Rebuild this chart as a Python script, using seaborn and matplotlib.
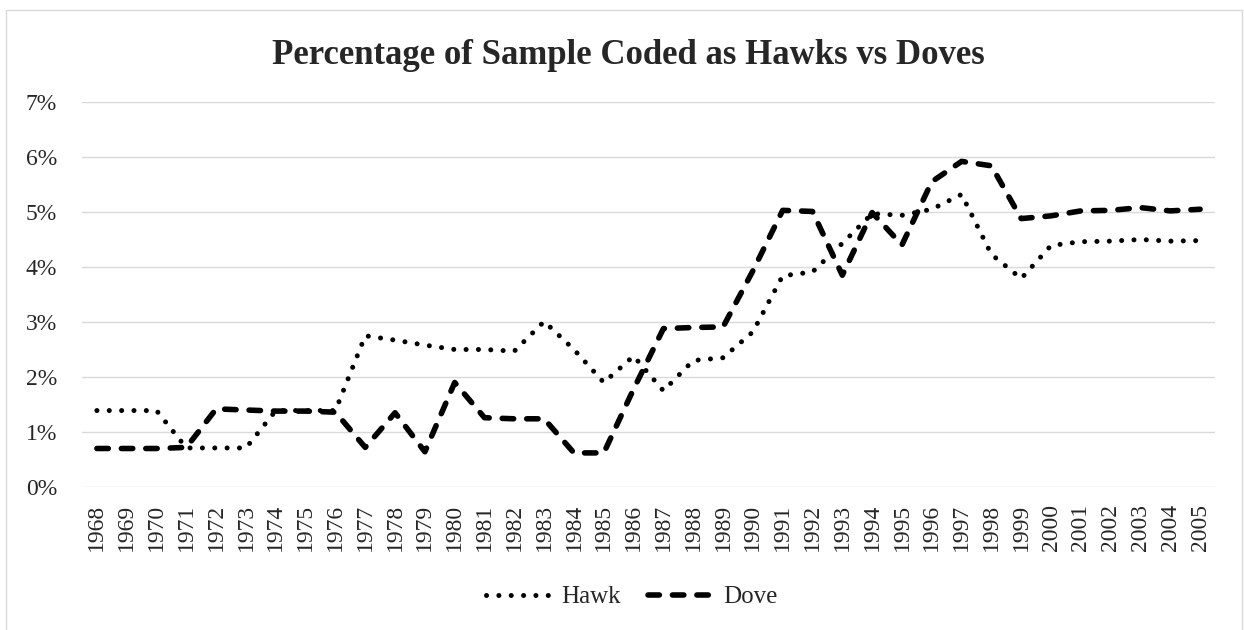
import matplotlib
matplotlib.use("Agg")
import matplotlib.pyplot as plt
from matplotlib.patches import Rectangle
import seaborn as sns
import pandas as pd

years = list(range(1968, 2006))
hawk = [1.39, 1.39, 1.39, 0.71, 0.71, 0.71, 1.39, 1.39, 1.39, 2.75,
        2.67, 2.58, 2.50, 2.50, 2.47, 3.01, 2.50, 1.90, 2.38, 1.75,
        2.30, 2.35, 2.82, 3.84, 3.91, 4.43, 4.97, 4.94, 5.05, 5.32,
        4.23, 3.79, 4.39, 4.46, 4.47, 4.50, 4.47, 4.48]
dove = [0.70, 0.70, 0.70, 0.72, 1.42, 1.40, 1.38, 1.38, 1.36, 0.72,
        1.35, 0.64, 1.90, 1.26, 1.24, 1.24, 0.62, 0.62, 1.78, 2.88,
        2.90, 2.91, 3.93, 5.03, 5.01, 3.85, 4.99, 4.40, 5.55, 5.92,
        5.84, 4.88, 4.93, 5.02, 5.03, 5.08, 5.02, 5.05]
series = ["Hawk", "Dove"]
y_ticks = [0, 1, 2, 3, 4, 5, 6, 7]

df = pd.DataFrame({
    "Year": years * 2,
    "Share": hawk + dove,
    "Series": ["Hawk"] * len(years) + ["Dove"] * len(years),
})

sns.set_theme(style="white")
plt.rcParams["font.family"] = ["Liberation Serif", "DejaVu Serif"]

W, H = 1244, 630
fig = plt.figure(figsize=(W / 100, H / 100), dpi=100)

# light chart-area border
fig.patches.append(Rectangle((6 / W, -0.05), (1242 - 6) / W, 1.05 - 10 / H,
                             transform=fig.transFigure, fill=False,
                             edgecolor="#d9d9d9", linewidth=1.0))

ax = fig.add_axes([82 / W, 1 - 487 / H, (1215 - 82) / W, (487 - 102) / H])

sns.lineplot(data=df, x="Year", y="Share", hue="Series", style="Series",
             size="Series", hue_order=series, style_order=series,
             size_order=series,
             palette={"Hawk": "black", "Dove": "black"},
             sizes={"Hawk": 3.6, "Dove": 4.0},
             dashes={"Hawk": (0.01, 2.46), "Dove": (2.05, 2.35)},
             ax=ax, legend=False)

for line in ax.lines:
    line.set_dash_capstyle("round")
    line.set_solid_capstyle("round")

ax.set_xlim(1967.5, 2005.5)
ax.set_ylim(0, 7)
ax.set_yticks(y_ticks)
ax.set_yticklabels([f"{t}%" for t in y_ticks], fontsize=17)
ax.set_xticks(years)
ax.set_xticklabels([str(y) for y in years], rotation=90, fontsize=17)
ax.tick_params(axis="y", length=0, pad=18)
ax.tick_params(axis="x", length=0, pad=12)
ax.grid(axis="y", color="#d9d9d9", linewidth=1.0)
ax.grid(axis="x", visible=False)
for s in ax.spines.values():
    s.set_visible(False)
ax.set_xlabel("")
ax.set_ylabel("")

fig.text(0.505, 1 - 64 / H, "Percentage of Sample Coded as Hawks vs Doves",
         ha="center", va="baseline", fontsize=25, fontweight="bold")

# legend built from the plotted lines
handles = [ax.lines[0], ax.lines[1]]
leg = fig.legend(handles, series, loc="center", bbox_to_anchor=(0.5076, 1 - 597 / H),
                 ncol=2, frameon=False, fontsize=18, handlelength=2.5,
                 columnspacing=1.1, handletextpad=0.5)

fig.savefig("out.png", dpi=100)
